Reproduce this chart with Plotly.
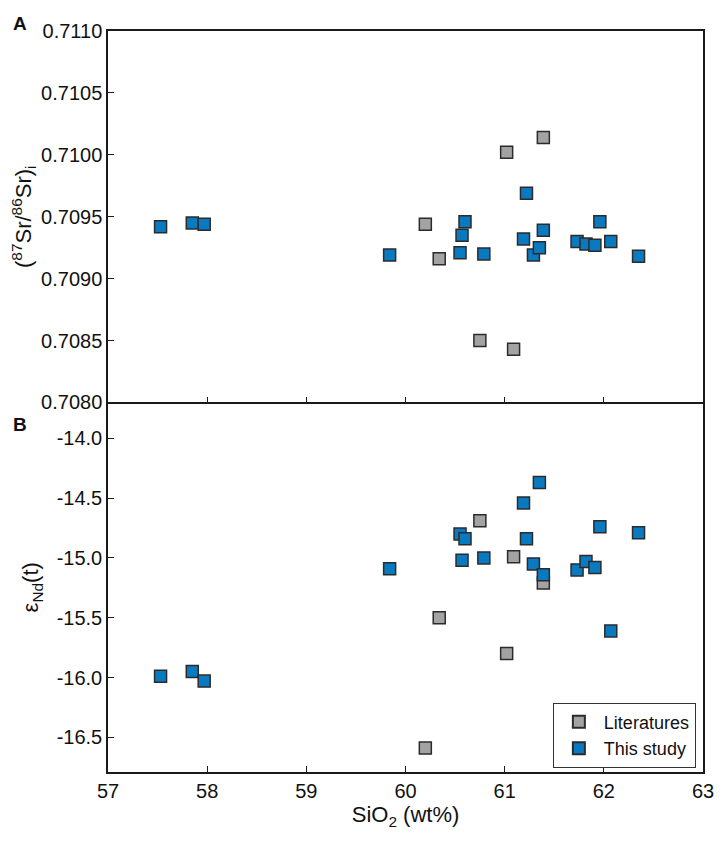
import plotly.graph_objects as go
from plotly.subplots import make_subplots

# SiO2 (wt%) values
lit_sio2 = [60.20, 60.34, 60.75, 61.02, 61.09, 61.39]
lit_sr = [0.70944, 0.70916, 0.70850, 0.71002, 0.70843, 0.71014]
lit_nd = [-16.59, -15.50, -14.69, -15.80, -14.99, -15.21]

study_sio2 = [57.53, 57.85, 57.97, 59.84, 60.55, 60.57, 60.60, 60.79, 61.19, 61.22,
              61.29, 61.35, 61.39, 61.73, 61.82, 61.91, 61.96, 62.07, 62.35]
study_sr = [0.70942, 0.70945, 0.70944, 0.70919, 0.70921, 0.70935, 0.70946, 0.70920, 0.70932, 0.70969,
            0.70919, 0.70925, 0.70939, 0.70930, 0.70928, 0.70927, 0.70946, 0.70930, 0.70918]
study_nd = [-15.99, -15.95, -16.03, -15.09, -14.80, -15.02, -14.84, -15.00, -14.54, -14.84,
            -15.05, -14.37, -15.14, -15.10, -15.03, -15.08, -14.74, -15.61, -14.79]

sr_ticks = [0.7080, 0.7085, 0.7090, 0.7095, 0.7100, 0.7105, 0.7110]
nd_ticks = [-16.5, -16.0, -15.5, -15.0, -14.5, -14.0]
nd_labels = ["-16.5", "-16.0", "-15.5", "-15.0", "-14.5", "-14.0"]

GRAY = "#a3a3a3"
BLUE = "#0a7ac0"
EDGE = "#2b2b2b"
FONT = "Arial, Liberation Sans, sans-serif"

fig = make_subplots(rows=2, cols=1, shared_xaxes=True, vertical_spacing=0,
                    row_heights=[0.5013, 0.4987])

def marker(color, size=12):
    return dict(symbol="square", size=size, color=color, line=dict(color=EDGE, width=1.5))

# Panel A
fig.add_trace(go.Scatter(x=lit_sio2, y=lit_sr, mode="markers", marker=marker(GRAY),
                         name="Literatures", showlegend=False), row=1, col=1)
fig.add_trace(go.Scatter(x=study_sio2, y=study_sr, mode="markers", marker=marker(BLUE),
                         name="This study", showlegend=False), row=1, col=1)

# Panel B
fig.add_trace(go.Scatter(x=lit_sio2, y=lit_nd, mode="markers", marker=marker(GRAY),
                         name="Literatures"), row=2, col=1)
fig.add_trace(go.Scatter(x=study_sio2, y=study_nd, mode="markers", marker=marker(BLUE),
                         name="This study"), row=2, col=1)

tick_font = dict(family=FONT, size=20, color="#111")
title_font = dict(family=FONT, size=22, color="#111")
axis_style = dict(showline=True, linecolor="#1a1a1a", linewidth=1.5,
                  ticks="inside", ticklen=6, tickwidth=1.2, tickcolor="#1a1a1a",
                  showgrid=False, zeroline=False, tickfont=tick_font)

fig.update_xaxes(range=[57, 63], dtick=1, **axis_style)
fig.update_xaxes(mirror=True, row=1, col=1)
fig.update_xaxes(mirror=False, title_text="SiO<sub>2</sub> (wt%)", title_font=title_font,
                 title_standoff=6, row=2, col=1)

fig.update_yaxes(range=[0.7080, 0.7110], tickvals=sr_ticks, tickformat=".4f", mirror=True,
                 title_text="(<sup>87</sup>Sr/<sup>86</sup>Sr)<sub>i</sub>",
                 title_font=title_font, title_standoff=6,
                 row=1, col=1, **axis_style)
fig.update_yaxes(range=[-16.79, -13.7], tickvals=nd_ticks, ticktext=nd_labels, mirror=True,
                 title_text="ε<sub>Nd</sub>(t)",
                 title_font=title_font, title_standoff=12,
                 row=2, col=1, **axis_style)

# panel letters
fig.add_annotation(text="<b>A</b>", xref="paper", yref="paper", x=-0.1635, y=1.0265,
                   xanchor="left", yanchor="top", showarrow=False,
                   font=dict(size=19, color="#111", family=FONT))
fig.add_annotation(text="<b>B</b>", xref="paper", yref="paper", x=-0.1635, y=0.469,
                   xanchor="left", yanchor="middle", showarrow=False,
                   font=dict(size=19, color="#111", family=FONT))

# page body has an 8px margin, so the figure is shrunk by that amount
fig.update_layout(
    width=718, height=833,
    margin=dict(l=99, r=15, t=20, b=69),
    plot_bgcolor="white", paper_bgcolor="white",
    font=dict(family=FONT, size=18, color="#111"),
    legend=dict(x=0.988, y=0.006, xanchor="right", yanchor="bottom",
                bordercolor="#333", borderwidth=1, bgcolor="white",
                font=dict(family=FONT, size=18), itemsizing="constant",
                itemwidth=40, tracegroupgap=0),
)

fig.write_html("out.html")
